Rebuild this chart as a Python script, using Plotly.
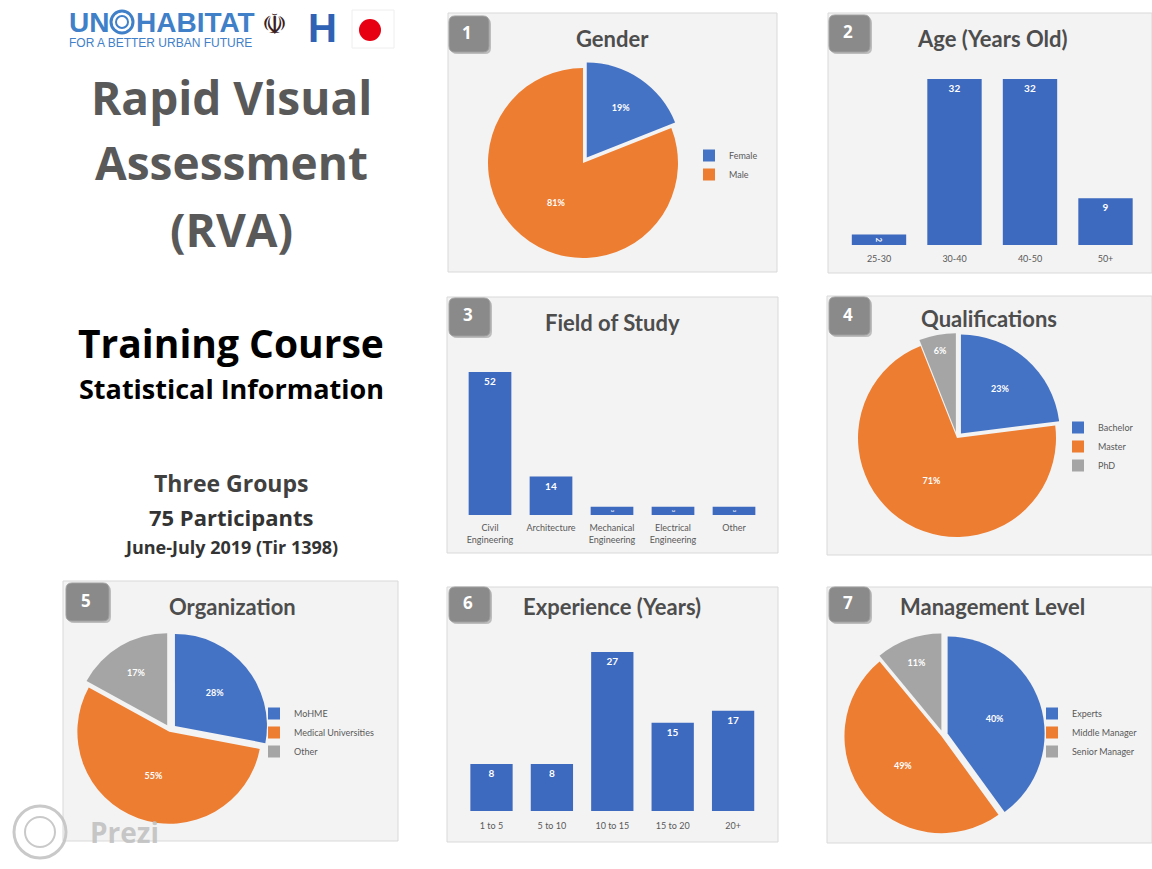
import plotly.graph_objects as go

W, H = 1152, 869

def fx(px):
    return px / W

def fy(py):
    return 1 - py / H

# ---------------- data ----------------
gender_labels = ["Female", "Male"]
gender_values = [19, 81]

age_labels = ["25-30", "30-40", "40-50", "50+"]
age_values = [2, 32, 32, 9]

field_labels = ["Civil<br>Engineering", "Architecture", "Mechanical<br>Engineering",
                "Electrical<br>Engineering", "Other"]
field_values = [52, 14, 3, 3, 3]

qual_labels = ["Bachelor", "Master", "PhD"]
qual_values = [23, 71, 6]

org_labels = ["MoHME", "Medical Universities", "Other"]
org_values = [28, 55, 17]

exp_labels = ["1 to 5", "5 to 10", "10 to 15", "15 to 20", "20+"]
exp_values = [8, 8, 27, 15, 17]

mgmt_labels = ["Experts", "Middle Manager", "Senior Manager"]
mgmt_values = [40, 49, 11]

panel_titles = ["Gender", "Age (Years Old)", "Field of Study", "Qualifications",
                "Organization", "Experience (Years)", "Management Level"]

# ---------------- style ----------------
BLUE = "#4472C4"
BAR_BLUE = "#3D69BE"
ORANGE = "#ED7D31"
GREY = "#A5A5A5"
SLICE_COLORS = [BLUE, ORANGE, GREY]
TITLE_FONT = "Lato"
SMALL_FONT = "Lato"
BIG_FONT = "Open Sans"

fig = go.Figure()
shapes = []
annotations = []
layout_extra = {}


def rrect_path(x0, y0, x1, y1, r):
    pts = [
        f"M {fx(x0 + r)},{fy(y0)}",
        f"L {fx(x1 - r)},{fy(y0)}",
        f"Q {fx(x1)},{fy(y0)} {fx(x1)},{fy(y0 + r)}",
        f"L {fx(x1)},{fy(y1 - r)}",
        f"Q {fx(x1)},{fy(y1)} {fx(x1 - r)},{fy(y1)}",
        f"L {fx(x0 + r)},{fy(y1)}",
        f"Q {fx(x0)},{fy(y1)} {fx(x0)},{fy(y1 - r)}",
        f"L {fx(x0)},{fy(y0 + r)}",
        f"Q {fx(x0)},{fy(y0)} {fx(x0 + r)},{fy(y0)}",
        "Z",
    ]
    return " ".join(pts)


# panels: (x0, y0, x1, y1), badge box, title center
panels = [
    ((448, 13, 777, 272), (449, 16, 489, 52), (612, 38)),
    ((828, 13, 1152, 273), (829, 15, 870, 52), (992, 38)),
    ((447, 297, 778, 553), (449, 298, 490, 336), (612, 322)),
    ((827, 296, 1152, 555), (829, 297, 870, 335), (989, 319)),
    ((63, 581, 398, 841), (66, 583, 109, 621), (232, 606)),
    ((447, 587, 778, 842), (449, 587, 490, 622), (612, 606)),
    ((827, 587, 1152, 843), (829, 587, 870, 622), (992, 606)),
]

for i, (pbox, bbox, tpos) in enumerate(panels):
    x0, y0, x1, y1 = pbox
    shapes.append(dict(type="rect", xref="paper", yref="paper", layer="below",
                       x0=fx(x0), x1=fx(x1), y0=fy(y1), y1=fy(y0),
                       fillcolor="#F3F3F3", line=dict(color="#D9D9D9", width=1)))
    bx0, by0, bx1, by1 = bbox
    # badge shadow
    shapes.append(dict(type="path", xref="paper", yref="paper", layer="above",
                       path=rrect_path(bx0 + 2, by0 + 2, bx1 + 2, by1 + 2, 6),
                       fillcolor="rgba(90,90,90,0.35)", line=dict(width=0)))
    shapes.append(dict(type="path", xref="paper", yref="paper", layer="above",
                       path=rrect_path(bx0, by0, bx1, by1, 6),
                       fillcolor="#8A8A8A", line=dict(color="#9E9E9E", width=1)))
    annotations.append(dict(xref="paper", yref="paper", x=fx((bx0 + bx1) / 2 - 2),
                            y=fy((by0 + by1) / 2 - 2), text=f"<b>{i + 1}</b>",
                            showarrow=False, xanchor="center", yanchor="middle",
                            font=dict(family=BIG_FONT, size=17, color="white")))
    annotations.append(dict(xref="paper", yref="paper", x=fx(tpos[0]), y=fy(tpos[1]),
                            text=panel_titles[i], showarrow=False,
                            xanchor="center", yanchor="middle",
                            font=dict(family=TITLE_FONT, size=22, color="#4D4D4D",
                                      weight="bold")))


def add_pie(labels, values, cx, cy, r, pulls, legend_name, lx, ly):
    half = r * (1 + max(pulls))
    fig.add_trace(go.Pie(
        labels=labels, values=values, sort=False, direction="clockwise", rotation=0,
        pull=pulls,
        marker=dict(colors=SLICE_COLORS[:len(labels)], line=dict(width=0)),
        texttemplate="%{value}%", textposition="inside",
        insidetextorientation="horizontal",
        textfont=dict(family=SMALL_FONT, size=9, color="white", weight="bold"),
        domain=dict(x=[fx(cx - half), fx(cx + half)], y=[fy(cy + half), fy(cy - half)]),
        legend=legend_name, hoverinfo="label+value",
    ))
    layout_extra[legend_name] = dict(
        x=fx(lx), y=fy(ly), xanchor="left", yanchor="top",
        bgcolor="rgba(0,0,0,0)", itemwidth=30, tracegroupgap=0,
        font=dict(family=SMALL_FONT, size=9, color="#595959"),
    )


add_pie(gender_labels, gender_values, 583, 163, 95, [0.07, 0.0], "legend", 689, 141)
add_pie(qual_labels, qual_values, 957, 438, 99, [0.06, 0.0, 0.06], "legend2", 1058, 413)
add_pie(org_labels, org_values, 170, 730, 92, [0.07, 0.02, 0.06], "legend3", 254, 699)
add_pie(mgmt_labels, mgmt_values, 943, 735, 97, [0.05, 0.02, 0.05], "legend4", 1032, 699)


def add_bar(n, cats, vals, x0, x1, base, top, ymax, width, standoff):
    suffix = "" if n == 1 else str(n)
    fig.add_trace(go.Bar(
        x=cats, y=vals, xaxis=f"x{suffix}", yaxis=f"y{suffix}",
        width=width, marker=dict(color=BAR_BLUE, line=dict(width=0)),
        texttemplate="%{y}", textposition="inside", insidetextanchor="end",
        textfont=dict(family=SMALL_FONT, size=10, color="white", weight="bold"),
        showlegend=False, hoverinfo="x+y",
    ))
    layout_extra[f"xaxis{suffix}"] = dict(
        domain=[fx(x0), fx(x1)], anchor=f"y{suffix}", showgrid=False, zeroline=False,
        showline=False, ticks="", fixedrange=True, ticklabelstandoff=standoff,
        tickfont=dict(family=SMALL_FONT, size=9, color="#595959"),
    )
    layout_extra[f"yaxis{suffix}"] = dict(
        domain=[fy(base), fy(top)], anchor=f"x{suffix}", range=[0, ymax],
        visible=False, fixedrange=True,
    )


add_bar(1, age_labels, age_values, 841.25, 1143.25, 245, 245 - 34 * 5.19, 34, 0.72, 7)
add_bar(2, field_labels, field_values, 459.5, 764.5, 515, 515 - 55 * 2.75, 55, 0.70, 6)
add_bar(3, exp_labels, exp_values, 461.3, 763.3, 811, 811 - 28 * 5.89, 28, 0.70, 8)

# ---------------- left column text ----------------
left_texts = [
    ("Rapid Visual", 97, 46, "#595959"),
    ("Assessment", 162, 46, "#595959"),
    ("(RVA)", 229, 46, "#595959"),
    ("Training Course", 342, 39, "#000000"),
    ("Statistical Information", 389, 27, "#000000"),
    ("Three Groups", 483, 23, "#404040"),
    ("75 Participants", 517, 22, "#333333"),
    ("June-July 2019 (Tir 1398)", 547, 18, "#333333"),
]
for txt, ypx, size, color in left_texts:
    annotations.append(dict(xref="paper", yref="paper", x=fx(231), y=fy(ypx), text=txt,
                            showarrow=False, xanchor="center", yanchor="middle",
                            font=dict(family=BIG_FONT, size=size, color=color,
                                      weight="bold")))

# ---------------- logos ----------------
UNBLUE = "#3F80C8"
annotations.append(dict(xref="paper", yref="paper", x=fx(67), y=fy(22), text="<b>UN</b>",
                        showarrow=False, xanchor="left", yanchor="middle",
                        font=dict(family="Liberation Sans", size=28, color=UNBLUE)))
annotations.append(dict(xref="paper", yref="paper", x=fx(134), y=fy(22), text="<b>HABITAT</b>",
                        showarrow=False, xanchor="left", yanchor="middle",
                        font=dict(family="Liberation Sans", size=28, color=UNBLUE)))
annotations.append(dict(xref="paper", yref="paper", x=fx(67), y=fy(43),
                        text="FOR A BETTER URBAN FUTURE",
                        showarrow=False, xanchor="left", yanchor="middle",
                        font=dict(family="Liberation Sans", size=12, color=UNBLUE)))
shapes.append(dict(type="circle", xref="paper", yref="paper",
                   x0=fx(111), x1=fx(133), y0=fy(33), y1=fy(11),
                   line=dict(color=UNBLUE, width=3)))
shapes.append(dict(type="circle", xref="paper", yref="paper",
                   x0=fx(116), x1=fx(128), y0=fy(28), y1=fy(16),
                   line=dict(color=UNBLUE, width=2)))
annotations.append(dict(xref="paper", yref="paper", x=fx(274), y=fy(24), text="☫",
                        showarrow=False, xanchor="center", yanchor="middle",
                        font=dict(family="DejaVu Sans", size=28, color="#3A2020")))
annotations.append(dict(xref="paper", yref="paper", x=fx(322), y=fy(28), text="<b>H</b>",
                        showarrow=False, xanchor="center", yanchor="middle",
                        font=dict(family="Liberation Sans", size=40, color="#2F62B5")))
shapes.append(dict(type="rect", xref="paper", yref="paper",
                   x0=fx(352), x1=fx(394), y0=fy(48), y1=fy(10),
                   fillcolor="white", line=dict(color="#EEEEEE", width=1)))
shapes.append(dict(type="circle", xref="paper", yref="paper",
                   x0=fx(359), x1=fx(381), y0=fy(41), y1=fy(19),
                   fillcolor="#E60012", line=dict(width=0)))

# ---------------- Prezi watermark ----------------
shapes.append(dict(type="circle", xref="paper", yref="paper",
                   x0=fx(14), x1=fx(66), y0=fy(858), y1=fy(806),
                   line=dict(color="rgba(195,195,195,0.9)", width=3)))
shapes.append(dict(type="circle", xref="paper", yref="paper",
                   x0=fx(25), x1=fx(55), y0=fy(847), y1=fy(817),
                   line=dict(color="rgba(195,195,195,0.9)", width=2)))
annotations.append(dict(xref="paper", yref="paper", x=fx(88), y=fy(832), text="<b>Prezi</b>",
                        showarrow=False, xanchor="left", yanchor="middle",
                        font=dict(family="Open Sans", size=28,
                                  color="rgba(190,190,190,0.85)")))

fig.update_layout(
    width=W, height=H, margin=dict(l=0, r=0, t=0, b=0),
    paper_bgcolor="white", plot_bgcolor="rgba(0,0,0,0)",
    shapes=shapes, annotations=annotations, showlegend=True,
    **layout_extra,
)

fig.write_html("out.html", config={"displayModeBar": False},
               post_script="document.body.style.margin='0';document.body.style.overflow='hidden';")
